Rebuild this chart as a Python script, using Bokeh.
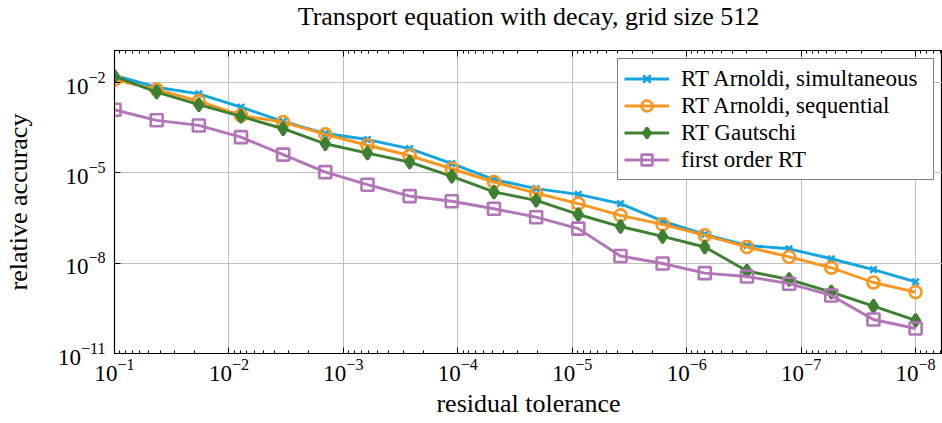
from bokeh.plotting import figure
from bokeh.models import FixedTicker, LogAxis, Range1d, CustomJSTickFormatter
from bokeh.embed import file_html
from bokeh.resources import INLINE

# residual tolerance (x)
tol = [1.0e-1, 4.281e-2, 1.833e-2, 7.848e-3, 3.360e-3, 1.438e-3, 6.158e-4, 2.637e-4,
       1.129e-4, 4.833e-5, 2.069e-5, 8.859e-6, 3.793e-6, 1.624e-6, 6.952e-7, 2.976e-7,
       1.274e-7, 5.456e-8, 2.336e-8, 1.0e-8]

acc_simultaneous = [1.74e-2, 7.08e-3, 4.27e-3, 1.55e-3, 5.13e-4, 2.04e-4, 1.29e-4, 6.46e-5,
                    2.04e-5, 6.03e-6, 3.02e-6, 1.95e-6, 9.55e-7, 2.51e-7, 9.12e-8, 3.89e-8,
                    3.02e-8, 1.41e-8, 6.17e-9, 2.40e-9]
acc_sequential = [1.26e-2, 5.89e-3, 2.45e-3, 8.13e-4, 4.90e-4, 1.91e-4, 8.32e-5, 3.80e-5,
                  1.38e-5, 5.01e-6, 2.14e-6, 9.55e-7, 3.89e-7, 1.95e-7, 8.51e-8, 3.47e-8,
                  1.62e-8, 7.08e-9, 2.29e-9, 1.10e-9]
acc_gautschi = [1.62e-2, 4.90e-3, 1.86e-3, 7.59e-4, 2.95e-4, 9.33e-5, 4.57e-5, 2.29e-5,
                7.76e-6, 2.34e-6, 1.23e-6, 4.17e-7, 1.66e-7, 7.76e-8, 3.47e-8, 5.50e-9,
                2.88e-9, 1.10e-9, 3.72e-10, 1.26e-10]
acc_first_order = [1.26e-3, 5.62e-4, 3.80e-4, 1.55e-4, 4.07e-5, 1.07e-5, 4.07e-6, 1.70e-6,
                   1.15e-6, 6.46e-7, 3.39e-7, 1.41e-7, 1.74e-8, 9.77e-9, 4.68e-9, 3.63e-9,
                   2.09e-9, 8.51e-10, 1.35e-10, 6.76e-11]

labels = ["RT Arnoldi, simultaneous", "RT Arnoldi, sequential", "RT Gautschi", "first order RT"]
title_text = "Transport equation with decay, grid size 512"

x_ticks = [1e-1, 1e-2, 1e-3, 1e-4, 1e-5, 1e-6, 1e-7, 1e-8]
y_ticks = [1e-11, 1e-8, 1e-5, 1e-2]

FONT = "Liberation Serif"
FS = "23px"
FS_BIG = "26px"

p = figure(width=942, height=423, x_axis_type="log", y_axis_type="log",
           x_range=Range1d(1e-1, 10 ** -8.235), y_range=Range1d(1e-11, 10 ** -0.93),
           output_backend="svg", toolbar_location=None,
           min_border_left=111, min_border_right=0, min_border_top=50, min_border_bottom=70,
           title=title_text)

p.title.align = "center"
p.title.vertical_align = "top"
p.title.text_font = FONT
p.title.text_font_size = FS_BIG
p.title.text_font_style = "normal"
p.title.text_color = "#000000"
p.title.standoff = 0

p.outline_line_color = "#000000"
p.outline_line_width = 1.2
p.outline_line_alpha = 1.0

minor_x = [k * d for d in [1e-1, 1e-2, 1e-3, 1e-4, 1e-5, 1e-6, 1e-7, 1e-8, 1e-9] for k in range(2, 10)]
xticker = FixedTicker(ticks=x_ticks, minor_ticks=minor_x)
yticker = FixedTicker(ticks=y_ticks, minor_ticks=[])

for ax in [p.xaxis[0], p.yaxis[0]]:
    ax.major_tick_in = 6
    ax.major_tick_out = 0
    ax.minor_tick_in = 3
    ax.minor_tick_out = 0
    ax.axis_line_color = "#000000"
    ax.major_tick_line_color = "#000000"
    ax.minor_tick_line_color = "#000000"
    ax.major_label_text_font = FONT
    ax.major_label_text_font_size = FS
    ax.major_label_text_color = "#000000"
    ax.axis_label_text_font = FONT
    ax.axis_label_text_font_size = FS_BIG
    ax.axis_label_text_font_style = "normal"
    ax.axis_label_text_color = "#000000"

p.xaxis[0].ticker = xticker
p.yaxis[0].ticker = yticker
p.xaxis[0].axis_label = "residual tolerance"
p.yaxis[0].axis_label = "relative accuracy"
p.xaxis[0].major_label_standoff = 5
p.yaxis[0].major_label_standoff = 9
p.xaxis[0].axis_label_standoff = 5
p.yaxis[0].axis_label_standoff = 22

# top axis: ticks only; a blank axis label reserves the gap between title and frame
top = LogAxis(ticker=xticker, major_tick_in=6, major_tick_out=0, minor_tick_in=3, minor_tick_out=0,
              major_label_text_font_size="0px", major_label_standoff=0,
              formatter=CustomJSTickFormatter(code="return ''"),
              axis_label=" ", axis_label_text_font_size="2px", axis_label_standoff=13,
              axis_line_color="#000000")
p.add_layout(top, "above")

p.xgrid.ticker = xticker
p.ygrid.ticker = yticker
for g in [p.xgrid[0], p.ygrid[0]]:
    g.grid_line_color = "#bfbfbf"
    g.grid_line_width = 1

colors = ["#14a5e1", "#f8961f", "#3e8032", "#b275b7"]
series = [acc_simultaneous, acc_sequential, acc_gautschi, acc_first_order]
markers = ["x", "circle", "diamond", "square"]
sizes = [9, 12, 13, 12]
fills = [None, None, "#3e8032", None]

for ys, c, m, s, f, lab in zip(series, colors, markers, sizes, fills, labels):
    p.line(tol, ys, line_color=c, line_width=2.9, legend_label=lab)
    p.scatter(tol, ys, marker=m, size=s, line_color=c, line_width=2.6,
              fill_color=f, fill_alpha=1.0 if f else 0.0, legend_label=lab)

lg = p.legend[0]
lg.location = "top_right"
lg.margin = 8
lg.padding = 6
lg.spacing = 0
lg.glyph_width = 45
lg.glyph_height = 27
lg.label_height = 27
lg.label_standoff = 12
lg.label_width = 246
lg.label_text_font = FONT
lg.label_text_font_size = FS
lg.label_text_color = "#000000"
lg.border_line_color = "#000000"
lg.border_line_width = 1.2
lg.background_fill_alpha = 1.0

open("out.html", "w").write(file_html(p, INLINE))
